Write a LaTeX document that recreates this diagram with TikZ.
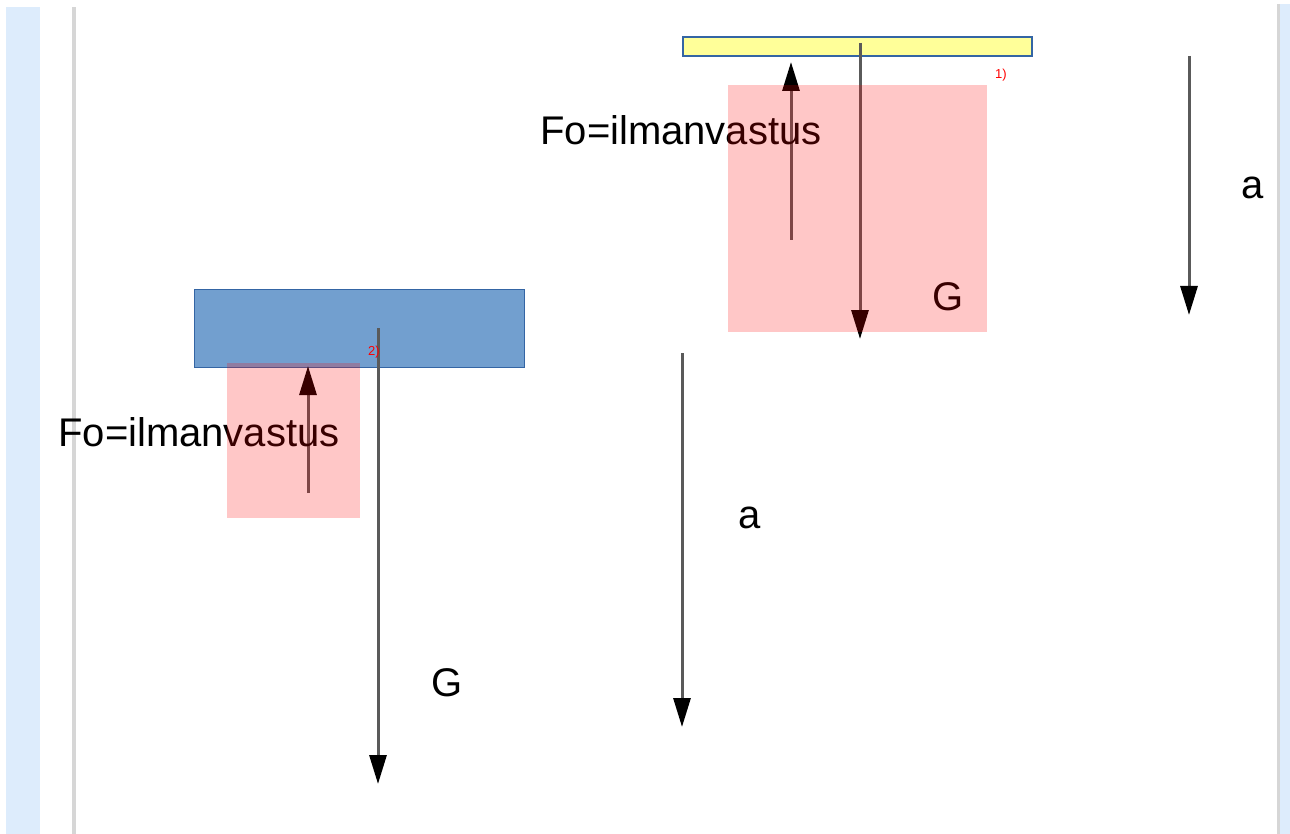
\documentclass[tikz,border=0pt]{standalone}
\usepackage{fontspec}
\setmainfont{Liberation Sans}
\usetikzlibrary{arrows.meta}
\definecolor{band}{RGB}{221,236,252}
\definecolor{rule}{RGB}{214,214,214}
\definecolor{plate}{RGB}{255,255,153}
\definecolor{slab}{RGB}{114,159,207}
\definecolor{edge}{RGB}{52,101,164}
\definecolor{stem}{RGB}{90,90,90}
\tikzstyle{base}=[x=1pt, y=-1pt, inner sep=0pt, outer sep=0pt]
\tikzstyle{force}=[stem, line width=3pt, -{Triangle[length=29pt,width=17pt,black]}]
\tikzstyle{drag}=[draw=none, fill=red, fill opacity=0.22]
\tikzstyle{word}=[font=\fontsize{40}{48}\selectfont]
\tikzstyle{tag}=[red, font=\fontsize{13}{15}\selectfont]

\begin{document}
\begin{tikzpicture}[base]
    % page frame
    \path [use as bounding box] (0,0) rectangle (1290,834);
    \fill [band] (6,7) rectangle (40,834);
    \fill [rule] (72,7) rectangle (76,834);
    \fill [rule] (1277,4) rectangle (1280,834);
    \fill [band] (1280,4) rectangle (1290,834);
    % 1) light plate
    \draw [edge, line width=1.5pt, fill=plate] (683,37) rectangle (1032,56);
    \node [tag] (one) at (1001,75) {1)};
    \coordinate (dragtopA) at (791,240);
    \coordinate (dragtopB) at (791,62);
    \coordinate (weighttopA) at (860,43);
    \coordinate (weighttopB) at (860,339);
    \draw [force] (dragtopA) -- (dragtopB);
    \draw [force] (weighttopA) -- (weighttopB);
    \coordinate (acctopA) at (1189,56);
    \coordinate (acctopB) at (1189,315);
    \draw [force] (acctopA) -- (acctopB);
    \node [word] (fotop) at (681,130) {Fo=ilmanvastus};
    \node [word] (gtop) at (948,297) {G};
    \node [word] (atop) at (1253,188) {a};
    % 2) heavy slab
    \draw [edge, line width=1pt, fill=slab] (194,290) rectangle (524,367);
    \coordinate (dragbotA) at (308,493);
    \coordinate (dragbotB) at (308,366);
    \coordinate (weightbotA) at (378,328);
    \coordinate (weightbotB) at (378,784);
    \draw [force] (dragbotA) -- (dragbotB);
    \draw [force] (weightbotA) -- (weightbotB);
    \node [tag] (two) at (374,352) {2)};
    \coordinate (accbotA) at (682,353);
    \coordinate (accbotB) at (682,727);
    \draw [force] (accbotA) -- (accbotB);
    \node [word] (fobot) at (199,432) {Fo=ilmanvastus};
    \node [word] (gbot) at (447,683) {G};
    \node [word] (abot) at (750,518) {a};
    % air resistance areas
    \fill [drag] (728,85) rectangle (987,332);
    \fill [drag] (227,363) rectangle (360,518);
\end{tikzpicture}
\end{document}
